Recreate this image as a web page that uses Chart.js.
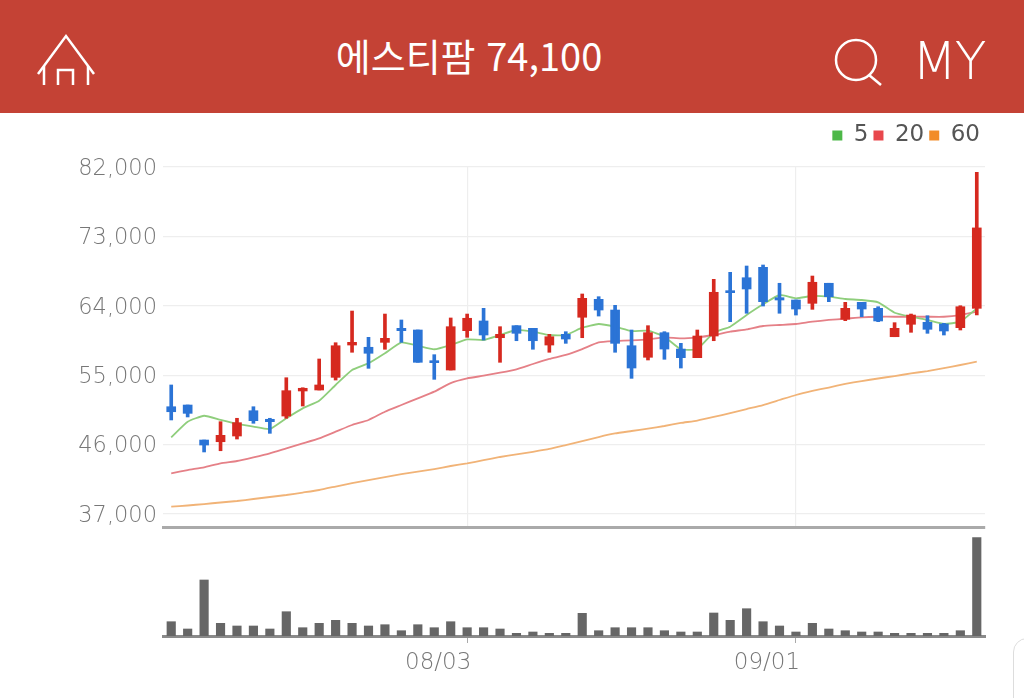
<!DOCTYPE html>
<html lang="ko">
<head>
<meta charset="utf-8">
<title>에스티팜 74,100</title>
<script src="https://cdn.jsdelivr.net/npm/chart.js@4"></script>
<style>
html,body{margin:0;padding:0;width:1024px;height:698px;background:#fff;overflow:hidden}
#bar{position:absolute;left:0;top:0;width:1024px;height:113px;background:#c44235;color:#fff}
#name{position:absolute;left:0;width:938px;top:30px;text-align:center;font:400 38px/50px "Noto Sans CJK KR",sans-serif;white-space:nowrap}
#my{position:absolute;left:912px;top:31px;font:200 52px/60px "DejaVu Sans",sans-serif;letter-spacing:-2px}
#bar svg{position:absolute;left:0;top:0}
canvas{position:absolute;left:0}
#corner{position:absolute;left:1013px;top:638px;width:40px;height:100px;border:1.5px solid #ddd;border-radius:14px}
</style>
</head>
<body>
<div id="bar">
<svg width="1024" height="113" fill="none" stroke="#fff" stroke-width="2.5">
<path d="M38 74 L66 36 L94 74"/><path d="M44 66 V85 M88 66 V85"/><path d="M58 85 V70 H73 V85"/>
<circle cx="856" cy="60" r="20"/><path d="M869 75 L881 85"/>
</svg>
<div id="name">에스티팜 74,100</div>
<div id="my">MY</div>
</div>
<canvas id="price" width="1024" height="420" style="top:113px;width:1024px;height:420px"></canvas>
<canvas id="volume" width="1024" height="169" style="top:529px;width:1024px;height:169px"></canvas>
<div id="corner"></div>
<script>
const categories = ["07/08","07/09","07/10","07/13","07/14","07/15","07/16","07/17","07/20","07/21","07/22","07/23","07/24","07/27","07/28","07/29","07/30","07/31","08/03","08/04","08/05","08/06","08/07","08/10","08/11","08/12","08/13","08/14","08/18","08/19","08/20","08/21","08/24","08/25","08/26","08/27","08/28","08/31","09/01","09/02","09/03","09/04","09/07","09/08","09/09","09/10","09/11","09/14","09/15","09/16"];
const dateTicks = ["08/03","09/01"];
const priceTicks = [37000,46000,55000,64000,73000,82000];
const high = [53730,51130,46590,48970,49410,50910,49410,54670,53370,57100,59210,63320,59910,62930,62160,60860,57660,62420,62930,63670,61290,61420,61080,60300,60640,65530,65180,64060,60860,61420,60640,59130,60860,67430,68340,69160,69290,66920,64750,67860,66920,64450,64450,63880,61810,62930,62710,61730,64010,81310];
const low = [49190,49580,45040,45200,46720,48760,47460,49410,51000,53080,54370,57970,55890,58360,59260,56670,54460,55670,59910,59560,56670,59470,58360,57970,59130,59860,62670,57970,54590,56970,57060,55930,57270,59470,61940,63030,63970,63030,62800,63540,64530,62070,62580,61940,59990,60560,60430,60210,60860,62800];
const open = [50910,51130,46590,46370,47110,50390,49280,49700,52950,53080,54720,58910,58620,59260,61080,60860,56840,55670,60770,62030,59860,61420,61080,58910,60300,62510,64840,63450,58820,57320,60510,58390,57270,60080,65960,67640,68990,65050,64750,64320,66920,62250,64450,63670,59990,61600,61860,61640,61160,63670];
const close = [50260,50050,45940,47200,48840,49100,48970,52990,53300,53730,58820,59260,57840,59780,60770,56670,56620,61290,62380,60210,60300,60430,59470,59990,59690,64970,63450,59130,55930,60510,58390,57270,60080,65750,65700,66180,64530,64750,63580,67050,65180,63670,63580,62030,61080,62800,60950,60730,63880,74100];
const ma5 = [46940,48970,49740,49190,48670,48320,48020,49410,50700,51690,53730,55670,56540,57840,59260,58820,58360,58910,59650,59560,60210,60860,60640,60210,60210,61160,61640,61290,60730,60770,59990,58360,58390,60510,61290,62800,64190,65400,64970,65270,65180,64880,64750,64450,63100,62580,62160,61640,61940,63670];
const ma20 = [42270,42700,43050,43570,43870,44350,44870,45520,46160,46810,47670,48540,49190,50260,51130,52000,52860,53980,54590,54930,55320,55760,56450,57100,57620,58390,59260,59430,59520,59650,59910,59780,59910,60210,60640,60950,61380,61510,61640,61940,62160,62320,62510,62580,62580,62580,62580,62580,62800,63230];
const ma60 = [37940,38100,38290,38490,38680,38940,39200,39460,39780,40110,40560,41010,41400,41790,42180,42480,42830,43220,43560,43970,44390,44720,45060,45430,45940,46460,46980,47440,47760,48080,48410,48800,49120,49580,50090,50610,51130,51780,52430,52950,53400,53860,54240,54570,54890,55220,55540,55930,56320,56750];
const volumes = [143,70,560,127,100,100,70,243,83,127,157,127,100,113,53,113,83,143,83,83,70,27,40,27,27,227,53,83,83,83,53,40,40,230,157,273,143,100,40,127,70,53,40,40,27,27,27,27,53,983];
const maNames = ["5","20","60"];

const FONT = "'DejaVu Sans'";
const UP = "#d6291f", DOWN = "#2b74d6";
const colors = open.map((o,i)=> close[i] >= o ? UP : DOWN);

const legendGap = { id:"legendGap", beforeInit(chart){
  const fit = chart.legend.fit;
  chart.legend.fit = function(){ fit.call(this); this.height = 48; };
}};

new Chart(document.getElementById("price"), {
  type:"bar",
  plugins:[legendGap],
  data:{ labels:categories, datasets:[
    {type:"line",label:maNames[0],data:ma5,borderColor:"#8fce7c",backgroundColor:"#4db848",borderWidth:1.8,pointRadius:0,tension:0.15,order:2},
    {type:"line",label:maNames[1],data:ma20,borderColor:"#e58087",backgroundColor:"#e8474c",borderWidth:1.8,pointRadius:0,tension:0.15,order:2},
    {type:"line",label:maNames[2],data:ma60,borderColor:"#f1b377",backgroundColor:"#f28c28",borderWidth:1.8,pointRadius:0,tension:0.15,order:2},
    {label:"wick",data:low.map((l,i)=>[l,high[i]]),backgroundColor:colors,barThickness:3,grouped:false,order:1},
    {label:"body",data:open.map((o,i)=>[Math.min(o,close[i]),Math.max(o,close[i])]),backgroundColor:colors,barThickness:9,minBarLength:2,grouped:false,order:1}
  ]},
  options:{
    responsive:false, animation:false, devicePixelRatio:1,
    layout:{padding:{top:6,right:39,left:0,bottom:0}},
    plugins:{
      tooltip:{enabled:false},
      legend:{position:"top",align:"end",
        labels:{boxWidth:10,boxHeight:10,padding:5,color:"#555",font:{family:FONT,size:23,weight:400},
          filter:(it)=>maNames.includes(it.text),
          generateLabels(chart){ return Chart.defaults.plugins.legend.labels.generateLabels(chart).map(l=>({...l,lineWidth:0})); }
        }}
    },
    scales:{
      x:{ offset:true,
        afterFit(s){ s.height = 6; s.paddingLeft = 0; s.paddingRight = 0; },
        border:{display:true,color:"#aaaaaa",width:3},
        grid:{offset:false,drawTicks:false,lineWidth:1.2,color(c){ return c.tick && dateTicks.includes(categories[c.tick.value]) ? "#eeeeee" : "rgba(0,0,0,0)"; }},
        ticks:{display:false,autoSkip:false}
      },
      y:{ min:35310, max:82000,
        afterFit(s){ s.width = 163; s.paddingTop = 0; s.paddingBottom = 0; },
        afterBuildTicks(s){ s.ticks = priceTicks.map(v=>({value:v})); },
        border:{display:false},
        grid:{color:"#eeeeee",lineWidth:1.2,drawTicks:false},
        ticks:{padding:6,labelOffset:2,color:"#777",font:{family:FONT,size:22.5,weight:200},callback:v=>v.toLocaleString("en-US")}
      }
    }
  }
});

new Chart(document.getElementById("volume"), {
  type:"bar",
  data:{ labels:categories, datasets:[
    {label:"volume",data:volumes,backgroundColor:"#666666",barThickness:8.5}
  ]},
  options:{
    responsive:false, animation:false, devicePixelRatio:1,
    layout:{padding:{top:0,right:39,left:163,bottom:0}},
    plugins:{legend:{display:false},tooltip:{enabled:false}},
    scales:{
      x:{ offset:true,
        afterFit(s){ s.height = 62; s.paddingLeft = 0; s.paddingRight = 0; },
        border:{display:true,color:"#8a8a8a",width:3},
        grid:{offset:false,drawOnChartArea:false,drawTicks:true,tickLength:7,tickWidth:1,
              tickColor(c){ return c.tick && dateTicks.includes(categories[c.tick.value]) ? "#aaaaaa" : "rgba(0,0,0,0)"; }},
        ticks:{autoSkip:false,maxRotation:0,minRotation:0,padding:6,labelOffset:-29,color:"#777",font:{family:FONT,size:23,weight:200},
          callback(v){ const s=this.getLabelForValue(v); return dateTicks.includes(s)?s:""; }}
      },
      y:{ display:false, min:0, max:1070 }
    }
  }
});
</script>
</body>
</html>
